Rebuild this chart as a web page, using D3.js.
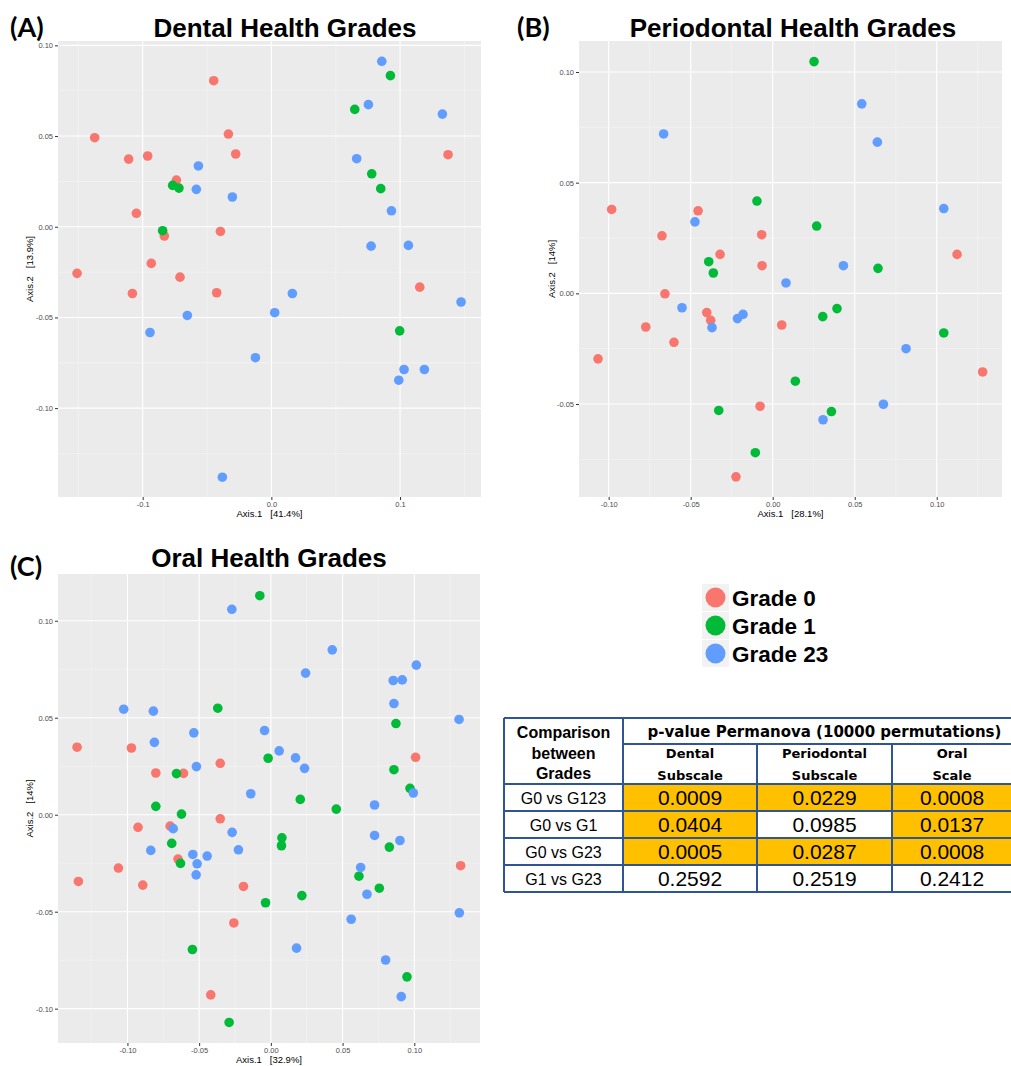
<!DOCTYPE html>
<html>
<head>
<meta charset="utf-8">
<script src="https://cdn.jsdelivr.net/npm/d3@7/dist/d3.min.js"></script>
<style>
  body { margin: 0; background: #fff; }
  svg text { white-space: pre; }
</style>
</head>
<body>
<svg id="chart" width="1011" height="1066"></svg>
<script>
// ---- data ----
const grades = ["Grade 0", "Grade 1", "Grade 23"];
const gradeColors = ["#F8766D", "#00BA38", "#619CFF"];

const dentalG0 = [[-0.0448,0.0805],[-0.1373,0.0491],[-0.1109,0.0373],[-0.0961,0.0390],[-0.0334,0.0511],[-0.0277,0.0401],
  [-0.0738,0.0257],[-0.1049,0.0074],[-0.0832,-0.0051],[-0.0396,-0.0026],[-0.0933,-0.0202],[-0.1510,-0.0257],
  [-0.0710,-0.0278],[-0.1080,-0.0368],[-0.0425,-0.0364],[0.1373,0.0397],[0.1153,-0.0333]];
const dentalG1 = [[0.0925,0.0833],[0.0648,0.0647],[-0.0767,0.0228],[-0.0718,0.0213],[-0.0845,-0.0022],
  [0.0780,0.0292],[0.0850,0.0210],[0.0997,-0.0574]];
const dentalG23 = [[0.0858,0.0912],[0.0754,0.0673],[0.1329,0.0621],[0.0663,0.0375],[-0.0567,0.0335],[-0.0583,0.0206],
  [-0.0303,0.0164],[0.0933,0.0088],[0.0775,-0.0107],[0.1065,-0.0103],[0.0163,-0.0368],[0.1474,-0.0415],
  [-0.0653,-0.0489],[0.0026,-0.0474],[-0.0943,-0.0583],[-0.0124,-0.0722],[0.1031,-0.0787],[0.1189,-0.0787],
  [0.0990,-0.0846],[-0.0381,-0.1381]];

const perioG0 = [[-0.0982,0.0379],[-0.0455,0.0373],[-0.0675,0.0260],[-0.0321,0.0176],[-0.0067,0.0265],[-0.0065,0.0125],
  [0.1124,0.0176],[-0.0657,-0.0002],[-0.0402,-0.0087],[-0.0378,-0.0122],[-0.0774,-0.0152],[-0.0602,-0.0221],
  [0.0055,-0.0143],[-0.1065,-0.0296],[0.1280,-0.0355],[-0.0077,-0.0510],[-0.0224,-0.0829]];
const perioG1 = [[0.0252,0.1047],[-0.0096,0.0417],[0.0268,0.0304],[-0.0390,0.0143],[-0.0362,0.0092],[0.0642,0.0113],
  [0.0392,-0.0069],[0.0305,-0.0105],[0.1043,-0.0179],[0.0138,-0.0397],[-0.0329,-0.0529],[0.0358,-0.0534],
  [-0.0106,-0.0720]];
const perioG23 = [[0.0543,0.0856],[-0.0665,0.0720],[0.0638,0.0683],[-0.0474,0.0323],[0.1043,0.0383],[0.0431,0.0125],
  [0.0081,0.0047],[-0.0553,-0.0065],[-0.0181,-0.0095],[-0.0215,-0.0114],[-0.0370,-0.0155],[0.0813,-0.0250],
  [0.0675,-0.0501],[0.0307,-0.0571]];

const oralG0 = [[-0.1351,0.0348],[-0.0972,0.0344],[-0.0802,0.0215],[-0.0609,0.0213],[-0.0353,0.0265],[-0.0353,-0.0021],
  [-0.0926,-0.0065],[-0.0702,-0.0059],[-0.0647,-0.0229],[-0.1063,-0.0275],[-0.1342,-0.0344],[-0.0893,-0.0363],
  [-0.0191,-0.0370],[-0.0258,-0.0558],[-0.0419,-0.0929],[0.1009,0.0296],[0.1323,-0.0263]];
const oralG1 = [[-0.0077,0.1129],[-0.0370,0.0549],[-0.0019,0.0291],[-0.0658,0.0212],[-0.0802,0.0043],[-0.0623,0.0003],
  [0.0205,0.0079],[0.0456,0.0029],[0.0872,0.0470],[0.0858,0.0232],[0.0970,0.0136],[0.0077,-0.0119],
  [0.0074,-0.0160],[-0.0691,-0.0148],[-0.0630,-0.0251],[0.0826,-0.0167],[0.0614,-0.0317],[0.0756,-0.0379],
  [0.0216,-0.0417],[-0.0037,-0.0454],[-0.0547,-0.0695],[0.0949,-0.0836],[-0.0291,-0.1071]];
const oralG23 = [[-0.0272,0.1059],[0.0428,0.0850],[0.0242,0.0730],[0.1014,0.0771],[0.0853,0.0692],[0.0916,0.0695],
  [0.0858,0.0573],[-0.1026,0.0544],[-0.0819,0.0534],[0.1312,0.0491],[-0.0537,0.0422],[-0.0044,0.0434],
  [-0.0812,0.0373],[0.0058,0.0329],[0.0172,0.0293],[-0.0519,0.0248],[0.0235,0.0239],[-0.0140,0.0108],
  [0.0993,0.0112],[0.0723,0.0050],[0.0723,-0.0107],[-0.0681,-0.0072],[-0.0270,-0.0091],[0.0900,-0.0133],
  [-0.0837,-0.0184],[-0.0226,-0.0181],[-0.0544,-0.0205],[-0.0444,-0.0213],[-0.0514,-0.0253],[-0.0521,-0.0310],
  [0.0626,-0.0272],[0.0670,-0.0410],[0.0560,-0.0539],[0.1314,-0.0506],[0.0179,-0.0688],[0.0800,-0.0749],
  [0.0909,-0.0938]];

const tableRows = ["G0 vs G123", "G0 vs G1", "G0 vs G23", "G1 vs G23"];
const tableCols = [["Dental", "Subscale"], ["Periodontal", "Subscale"], ["Oral", "Scale"]];
const pValues = [
  ["0.0009", "0.0229", "0.0008"],
  ["0.0404", "0.0985", "0.0137"],
  ["0.0005", "0.0287", "0.0008"],
  ["0.2592", "0.2519", "0.2412"]
];

// ---- layout ----
const svg = d3.select("#chart");

const panels = [
  { tag: "(A)", title: "Dental Health Grades", tagX: 10, titleX: 285, titleY: 37,
    x0: 58, x1: 481, y0: 41, y1: 497, xDom: [-0.1658, 0.1629], yDom: [-0.149, 0.1024],
    xTicks: [-0.1, 0, 0.1], xDec: 1, yTicks: [-0.1, -0.05, 0, 0.05, 0.1],
    xLab: "Axis.1   [41.4%]", yLab: "Axis.2   [13.9%]", yLabX: 33, series: [dentalG0, dentalG1, dentalG23] },
  { tag: "(B)", title: "Periodontal Health Grades", tagX: 517, titleX: 793, titleY: 37,
    x0: 579, x1: 1002, y0: 41, y1: 497, xDom: [-0.1181, 0.1398], yDom: [-0.0920, 0.1140],
    xTicks: [-0.1, -0.05, 0, 0.05, 0.1], xDec: 2, yTicks: [-0.05, 0, 0.05, 0.1],
    xLab: "Axis.1   [28.1%]", yLab: "Axis.2   [14%]", yLabX: 555, series: [perioG0, perioG1, perioG23] },
  { tag: "(C)", title: "Oral Health Grades", tagX: 10, titleX: 269, titleY: 567,
    x0: 58, x1: 480, y0: 574, y1: 1043, xDom: [-0.1484, 0.1458], yDom: [-0.1177, 0.1241],
    xTicks: [-0.1, -0.05, 0, 0.05, 0.1], xDec: 2, yTicks: [-0.1, -0.05, 0, 0.05, 0.1],
    xLab: "Axis.1   [32.9%]", yLab: "Axis.2   [14%]", yLabX: 33, series: [oralG0, oralG1, oralG23] }
];

function minorTicks(ticks, dom) {
  const step = ticks[1] - ticks[0];
  const out = [];
  for (let v = ticks[0] - step / 2; v <= dom[1]; v += step) if (v >= dom[0]) out.push(v);
  return out;
}

panels.forEach(p => {
  const x = d3.scaleLinear().domain(p.xDom).range([p.x0, p.x1]);
  const y = d3.scaleLinear().domain(p.yDom).range([p.y1, p.y0]);
  const g = svg.append("g");

  g.append("rect").attr("x", p.x0).attr("y", p.y0)
    .attr("width", p.x1 - p.x0).attr("height", p.y1 - p.y0).attr("fill", "#EBEBEB");

  // minor grid
  g.selectAll(".mx").data(minorTicks(p.xTicks, p.xDom)).join("line")
    .attr("x1", d => x(d)).attr("x2", d => x(d)).attr("y1", p.y0).attr("y2", p.y1)
    .attr("stroke", "#F5F5F5").attr("stroke-width", 0.6);
  g.selectAll(".my").data(minorTicks(p.yTicks, p.yDom)).join("line")
    .attr("y1", d => y(d)).attr("y2", d => y(d)).attr("x1", p.x0).attr("x2", p.x1)
    .attr("stroke", "#F5F5F5").attr("stroke-width", 0.6);
  // major grid
  g.selectAll(".gx").data(p.xTicks).join("line")
    .attr("x1", d => x(d)).attr("x2", d => x(d)).attr("y1", p.y0).attr("y2", p.y1)
    .attr("stroke", "#fff").attr("stroke-width", 1.1);
  g.selectAll(".gy").data(p.yTicks).join("line")
    .attr("y1", d => y(d)).attr("y2", d => y(d)).attr("x1", p.x0).attr("x2", p.x1)
    .attr("stroke", "#fff").attr("stroke-width", 1.1);

  // axes
  const xa = g.append("g").attr("transform", `translate(0,${p.y1})`)
    .call(d3.axisBottom(x).tickValues(p.xTicks).tickSize(3).tickPadding(2).tickFormat(d => d.toFixed(p.xDec)));
  const ya = g.append("g").attr("transform", `translate(${p.x0},0)`)
    .call(d3.axisLeft(y).tickValues(p.yTicks).tickSize(3).tickPadding(2).tickFormat(d => d.toFixed(2)));
  [xa, ya].forEach(a => {
    a.select(".domain").remove();
    a.selectAll("line").attr("stroke", "#333");
    a.selectAll("text").attr("fill", "#4D4D4D").style("font-family", "Liberation Sans, Arial, sans-serif").style("font-size", "7.5px");
  });

  // axis titles
  g.append("text").attr("x", (p.x0 + p.x1) / 2).attr("y", p.y1 + 20)
    .attr("text-anchor", "middle").style("font-family", "Liberation Sans, Arial, sans-serif")
    .style("font-size", "9.5px").text(p.xLab);
  g.append("text").attr("transform", `translate(${p.yLabX},${(p.y0 + p.y1) / 2}) rotate(-90)`)
    .attr("text-anchor", "middle").style("font-family", "Liberation Sans, Arial, sans-serif")
    .style("font-size", "9.5px").text(p.yLab);

  // points
  p.series.forEach((s, i) => {
    g.append("g").selectAll("circle").data(s).join("circle")
      .attr("cx", d => x(d[0])).attr("cy", d => y(d[1])).attr("r", 4.8)
      .attr("fill", gradeColors[i]);
  });

  // titles
  g.append("text").attr("x", p.titleX).attr("y", p.titleY).attr("text-anchor", "middle")
    .style("font-family", "Liberation Sans, Arial, sans-serif").style("font-weight", "bold")
    .style("font-size", "26px").text(p.title);
  g.append("text").attr("x", p.tagX).attr("y", p.titleY + (p.tag === "(C)" ? 9 : 0))
    .style("font-family", "Lato, Open Sans, sans-serif").style("font-weight", "bold")
    .style("font-size", "27px").text(p.tag);
});

// ---- legend ----
const legend = svg.append("g").attr("transform", "translate(702,584)");
grades.forEach((gname, i) => {
  const row = legend.append("g").attr("transform", `translate(0,${i * 28})`);
  row.append("rect").attr("width", 27).attr("height", 27).attr("fill", "#F2F2F2");
  row.append("circle").attr("cx", 13.5).attr("cy", 13.5).attr("r", 10).attr("fill", gradeColors[i]);
  row.append("text").attr("x", 30).attr("y", 22)
    .style("font-family", "Liberation Sans, Arial, sans-serif").style("font-weight", "bold")
    .style("font-size", "22.5px").text(gname);
});

// ---- table ----
const colX = [504, 623, 757, 892, 1012];
const rowY = [718, 784, 811, 838, 865, 892];
const hdrMid = 744;
const tbl = svg.append("g");
const border = "#2F5597";

pValues.forEach((r, ri) => {
  r.forEach((v, ci) => {
    const sig = +v < 0.05;
    tbl.append("rect").attr("x", colX[ci + 1]).attr("y", rowY[ri + 1])
      .attr("width", colX[ci + 2] - colX[ci + 1]).attr("height", rowY[ri + 2] - rowY[ri + 1])
      .attr("fill", sig ? "#FFC000" : "#fff");
    tbl.append("text").attr("x", (colX[ci + 1] + colX[ci + 2]) / 2).attr("y", (rowY[ri + 1] + rowY[ri + 2]) / 2 + 7.5)
      .attr("text-anchor", "middle").style("font-family", "Liberation Sans, Arial, sans-serif")
      .style("font-size", "21px").text(v);
  });
  tbl.append("text").attr("x", (colX[0] + colX[1]) / 2).attr("y", (rowY[ri + 1] + rowY[ri + 2]) / 2 + 6)
    .attr("text-anchor", "middle").style("font-family", "Liberation Sans, Arial, sans-serif")
    .style("font-size", "16px").text(tableRows[ri]);
});

// header texts
["Comparison", "between", "Grades"].forEach((t, i) => {
  tbl.append("text").attr("x", (colX[0] + colX[1]) / 2).attr("y", 738 + i * 20.5)
    .attr("text-anchor", "middle").style("font-family", "Liberation Sans, Arial, sans-serif")
    .style("font-weight", "bold").style("font-size", "16px").text(t);
});
tbl.append("text").attr("x", (colX[1] + colX[4]) / 2 + 7).attr("y", 737)
  .attr("text-anchor", "middle").style("font-family", "DejaVu Sans, sans-serif")
  .style("font-weight", "bold").style("font-size", "15px").text("p-value Permanova (10000 permutations)");
tableCols.forEach((c, ci) => {
  c.forEach((t, li) => {
    tbl.append("text").attr("x", (colX[ci + 1] + colX[ci + 2]) / 2).attr("y", 758 + li * 22)
      .attr("text-anchor", "middle").style("font-family", "DejaVu Sans, sans-serif")
      .style("font-weight", "bold").style("font-size", "13px").text(t);
  });
});

// grid lines
rowY.forEach(yy => {
  tbl.append("line").attr("x1", colX[0]).attr("x2", colX[4]).attr("y1", yy).attr("y2", yy)
    .attr("stroke", border).attr("stroke-width", 2);
});
tbl.append("line").attr("x1", colX[1]).attr("x2", colX[4]).attr("y1", hdrMid).attr("y2", hdrMid)
  .attr("stroke", border).attr("stroke-width", 2);
colX.forEach((xx, i) => {
  const top = (i === 2 || i === 3) ? hdrMid : rowY[0];
  tbl.append("line").attr("x1", xx).attr("x2", xx).attr("y1", top).attr("y2", rowY[rowY.length - 1])
    .attr("stroke", border).attr("stroke-width", 2);
});
</script>
</body>
</html>
